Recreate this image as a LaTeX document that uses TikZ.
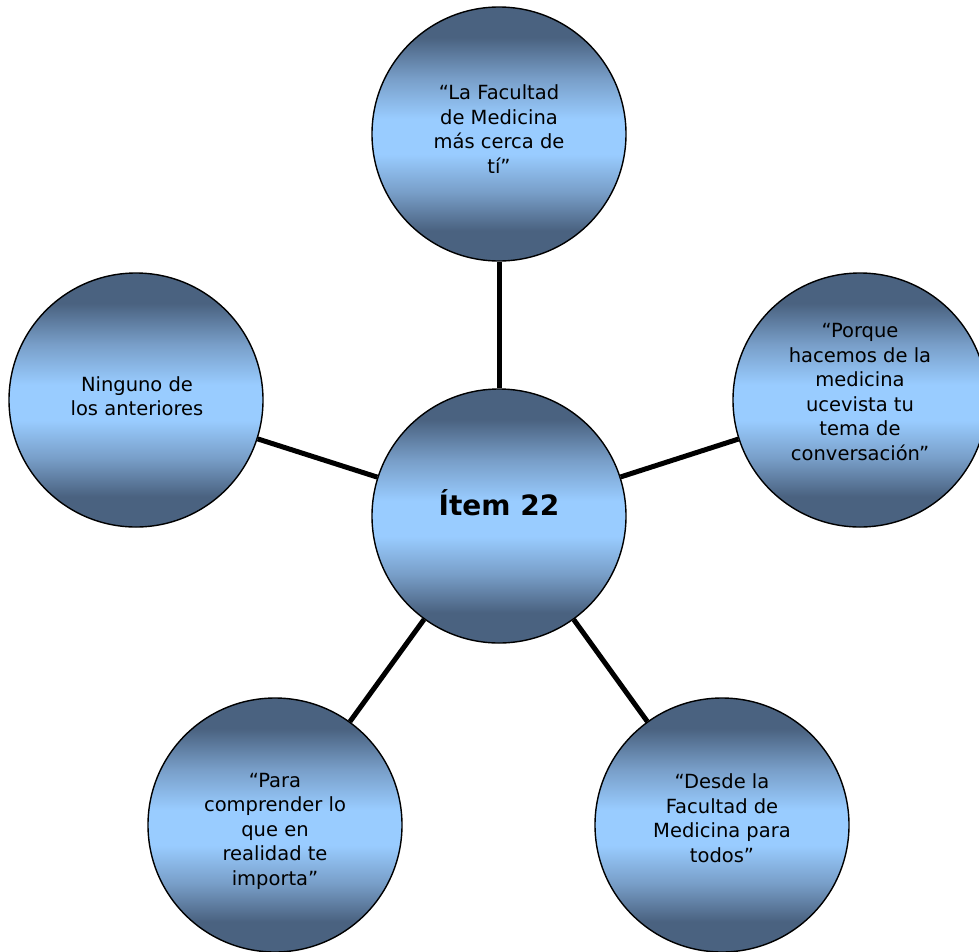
\documentclass[tikz,border=0pt]{standalone}
\usepackage{fontspec}
\setmainfont{DejaVu Sans}
\definecolor{bdark}{RGB}{74,98,128}
\definecolor{bmid}{RGB}{120,158,200}
\definecolor{blight}{RGB}{153,204,255}
\pgfdeclareverticalshading{bubble}{100bp}{color(0bp)=(bdark); color(25bp)=(bdark); color(31bp)=(bdark); color(38.5bp)=(bmid); color(46bp)=(blight); color(53bp)=(blight); color(61bp)=(bmid); color(69bp)=(bdark); color(75bp)=(bdark); color(100bp)=(bdark)}
\tikzset{
  bub/.style={circle, draw=black, line width=1.4pt, shading=bubble, minimum size=254pt, inner sep=0pt},
  txt/.style={align=center, font=\fontsize{19.5}{24.5}\selectfont, text=black},
  link/.style={line width=5pt, draw=black}
}
\begin{document}
\begin{tikzpicture}[x=1pt,y=-1pt]
\useasboundingbox (0,0) rectangle (979,951);
\clip (0,0) rectangle (979,951);
\node[bub] (c) at (499,516) {};
\node[bub] (t) at (499,134) {};
\node[bub] (r) at (860,400) {};
\node[bub] (l) at (136,400) {};
\node[bub] (bl) at (275,825) {};
\node[bub] (br) at (722,825) {};
\draw[link] (c) -- (t);
\draw[link] (c) -- (r);
\draw[link] (c) -- (l);
\draw[link] (c) -- (bl);
\draw[link] (c) -- (br);
\node[txt, font=\fontsize{28}{32}\selectfont\bfseries] (ct) at (499,503) {Ítem 22};
\node[txt] (tt) at (499,129) {“La Facultad\\de Medicina\\más cerca de\\tí”};
\node[txt] (rt) at (860,392) {“Porque\\hacemos de la\\medicina\\ucevista tu\\tema de\\conversación"};
\node[txt] (lt) at (137,396) {Ninguno de\\los anteriores};
\node[txt] (blt) at (275,831) {“Para\\comprender lo\\que en\\realidad te\\importa”};
\node[txt] (brt) at (722,818) {“Desde la\\Facultad de\\Medicina para\\todos”};
\end{tikzpicture}
\end{document}
